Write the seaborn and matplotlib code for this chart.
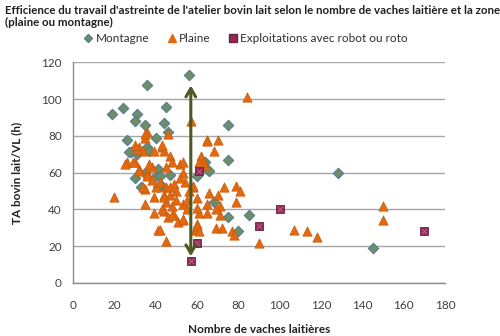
import matplotlib
matplotlib.use("Agg")
import matplotlib.pyplot as plt
from matplotlib.lines import Line2D
import seaborn as sns
import pandas as pd

# ---- data ----
montagne_x = [56, 36, 19, 24, 31, 30, 35, 26, 40, 36, 45, 44, 75, 46, 28, 31, 30, 37,
              30, 33, 40, 43, 47, 60, 65, 75, 66, 64, 68, 75, 85, 80, 128, 145, 35, 41,
              42, 41, 27]
montagne_y = [113, 108, 92, 95, 92, 88, 86, 78, 79, 74, 96, 87, 86, 82, 71, 70, 73, 72,
              57, 52, 58, 53, 59, 58, 62, 67, 61, 66, 44, 36, 37, 28, 60, 19, 60, 62,
              58, 52, 71]

plaine_x = [57, 36, 46, 65, 35, 32, 34, 26, 30, 39, 43, 44, 47, 48, 52, 62, 64, 32, 36, 45,
            53, 49, 45, 40, 35, 20, 50, 58, 35, 39, 44, 45, 48, 53, 60, 65, 39, 44, 46, 49,
            51, 53, 41, 45, 59, 60, 65, 84, 65, 70, 68, 62, 63, 53, 73, 79, 81, 70, 66, 58,
            54, 47, 44, 71, 79, 71, 69, 72, 77, 78, 61, 60, 61, 90, 107, 113, 118, 150, 150, 53,
            42, 48, 50, 55, 43, 61, 69, 25, 29, 32, 36, 34, 38, 31, 35, 30, 43, 56, 47, 60,
            55, 42, 38, 37, 52]
plaine_y = [88, 82, 81, 78, 79, 74, 72, 66, 66, 72, 74, 72, 69, 66, 65, 67, 64, 62, 60, 63,
            60, 54, 52, 52, 51, 47, 50, 52, 43, 47, 48, 44, 42, 43, 46, 43, 38, 39, 36, 37,
            33, 34, 29, 23, 29, 32, 38, 101, 77, 78, 72, 69, 66, 66, 52, 53, 50, 48, 49, 53,
            55, 52, 47, 42, 44, 37, 30, 30, 28, 26, 38, 31, 28, 22, 29, 28, 25, 42, 34, 35,
            29, 37, 45, 45, 40, 66, 40, 65, 66, 61, 58, 52, 63, 73, 81, 75, 75, 50, 48, 41,
            40, 55, 56, 65, 57]

robot_x = [61, 60, 57, 100, 90, 170]
robot_y = [61, 22, 12, 40, 31, 28]

arrow_x = 57
arrow_y_bottom = 13
arrow_y_top = 109

x_ticks = list(range(0, 181, 20))
y_ticks = list(range(0, 121, 20))

title = ("Efficience du travail d'astreinte de l'atelier bovin lait selon le nombre de vaches laitière et la zone\n"
         "(plaine ou montagne)")
legend_labels = ["Montagne", "Plaine", "Exploitations avec robot ou roto"]
xlabel = "Nombre de vaches laitières"
ylabel = "TA bovin lait/VL (h)"

# ---- style ----
sns.set_style("white")
plt.rcParams['font.family'] = ['Lato', 'DejaVu Sans']

c_mont = "#6e8f66"
e_mont = "#557a92"
c_plaine = "#e2690f"
c_robot = "#8f2a55"
c_arrow = "#4a5a22"

fig = plt.figure(figsize=(5.0, 3.36), dpi=100)
ax = fig.add_axes([0.146, 0.158, 0.744, 0.656])

df_m = pd.DataFrame({"x": montagne_x, "y": montagne_y})
df_p = pd.DataFrame({"x": plaine_x, "y": plaine_y})
df_r = pd.DataFrame({"x": robot_x, "y": robot_y})

sns.scatterplot(data=df_m, x="x", y="y", marker="D", s=28, color=c_mont,
                edgecolor=e_mont, linewidth=0.8, ax=ax, zorder=3, legend=False)
sns.scatterplot(data=df_p, x="x", y="y", marker="^", s=45, color=c_plaine,
                edgecolor="#c85a0c", linewidth=0.5, ax=ax, zorder=4, legend=False)
sns.scatterplot(data=df_r, x="x", y="y", marker="s", s=38, color=c_robot,
                edgecolor="#6e1e40", linewidth=0.6, ax=ax, zorder=5, legend=False)
sns.scatterplot(data=df_r, x="x", y="y", marker="x", s=14, color="#c46a8c",
                linewidth=0.6, ax=ax, zorder=6, legend=False)

ax.annotate("", xy=(arrow_x, arrow_y_top), xytext=(arrow_x, arrow_y_bottom),
            arrowprops=dict(arrowstyle="<->,head_length=0.6,head_width=0.35",
                            color=c_arrow, lw=2.2),
            zorder=7)

ax.set_xlim(0, 180)
ax.set_ylim(0, 120)
ax.set_xticks(x_ticks)
ax.set_yticks(y_ticks)
ax.grid(axis="y", color="#a6a6a6", linewidth=1.0)
ax.grid(axis="x", visible=False)
ax.set_axisbelow(True)
for s in ["top", "right"]:
    ax.spines[s].set_visible(False)
for s in ["left", "bottom"]:
    ax.spines[s].set_color("#8c8c8c")
    ax.spines[s].set_linewidth(1.0)
ax.tick_params(axis="both", which="both", direction="out", length=4, width=1,
               color="#8c8c8c", labelsize=8.5, labelcolor="#404040", pad=4)
ax.tick_params(axis="x", pad=8)

ax.set_xlabel(xlabel, fontsize=8.5, fontweight="bold", color="#202020", labelpad=10)
ax.set_ylabel(ylabel, fontsize=8.5, fontweight="bold", color="#202020", labelpad=14)

fig.text(0.01, 0.985, title, ha="left", va="top", fontsize=8.25, fontweight="bold",
         color="#202020", linespacing=1.1)

handles = [
    Line2D([], [], marker="D", linestyle="", markersize=4.5, markerfacecolor=c_mont,
           markeredgecolor=e_mont),
    Line2D([], [], marker="^", linestyle="", markersize=6, markerfacecolor=c_plaine,
           markeredgecolor=c_plaine),
    Line2D([], [], marker="s", linestyle="", markersize=6, markerfacecolor=c_robot,
           markeredgecolor="#6e1e40"),
]
fig.legend(handles, legend_labels, loc="center", bbox_to_anchor=(0.49, 0.885), ncol=3,
           frameon=False, fontsize=8.5, handletextpad=0.1, columnspacing=1.4,
           handlelength=1.0, labelcolor="#303030")

fig.savefig("out.png", dpi=100)
